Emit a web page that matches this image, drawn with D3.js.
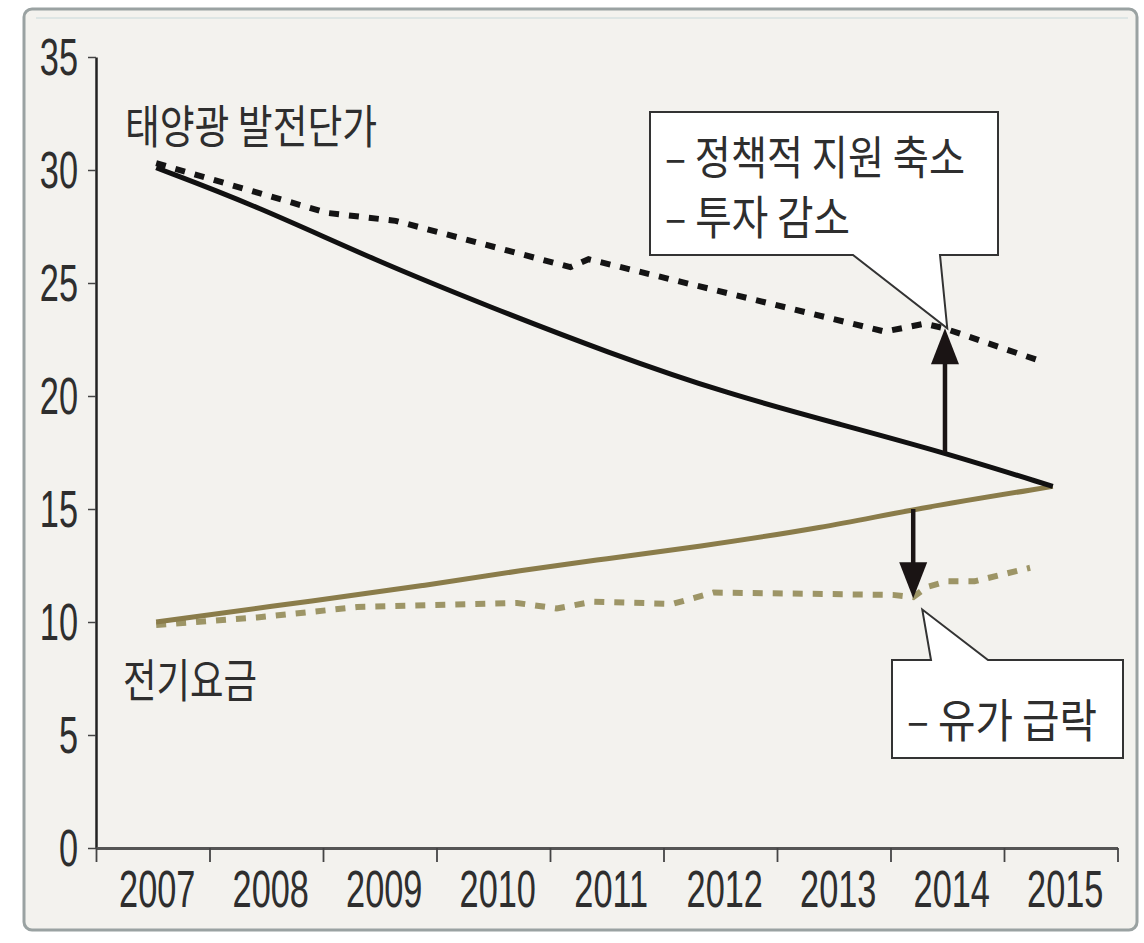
<!DOCTYPE html>
<html><head><meta charset="utf-8">
<script src="https://cdn.jsdelivr.net/npm/d3@7"></script>
<style>html,body{margin:0;padding:0;background:#fff;} svg{display:block}</style>
</head><body><svg id="c" width="1144" height="943"></svg>
<script>
// ---- data ----
const years = [2007, 2008, 2009, 2010, 2011, 2012, 2013, 2014, 2015];
const yTicks = [0, 5, 10, 15, 20, 25, 30, 35];

// 태양광 발전단가 (solid black)
const solarYears  = [2007.03, 2007.92, 2008.96, 2009.99, 2011.02, 2012.06, 2013.09, 2013.97, 2014.93];
const solarValues = [30.1, 28.4, 26.0, 23.9, 21.9, 20.1, 18.7, 17.5, 16.0];

// 태양광 발전단가 - 정책 지원 축소 시나리오 (dashed black)
const solarAltYears  = [2007.03, 2008.54, 2009.14, 2010.68, 2010.84, 2013.45, 2013.80, 2013.97, 2014.79];
const solarAltValues = [30.3, 28.1, 27.75, 25.7, 26.05, 22.85, 23.2, 23.0, 21.6];

// 전기요금 (solid gold)
const elecYears  = [2007.03, 2008.5, 2009.38, 2010.26, 2011.0, 2011.76, 2012.94, 2013.7, 2014.93];
const elecValues = [10.0, 11.0, 11.6, 12.3, 12.8, 13.3, 14.2, 15.0, 16.0];

// 전기요금 - 유가 급락 시나리오 (dashed gold)
const elecAltYears  = [2007.03, 2007.92, 2008.8, 2010.21, 2010.56, 2010.88, 2011.58, 2011.94, 2013.52, 2013.70, 2013.82, 2014.0, 2014.24, 2014.73];
const elecAltValues = [9.87, 10.2, 10.66, 10.84, 10.6, 10.9, 10.8, 11.3, 11.2, 11.1, 11.55, 11.8, 11.8, 12.4];

// arrows: [year, from, to]
const arrowYears = [2013.98, 2013.70];
const arrowFrom  = [17.5, 15.0];
const arrowTo    = [23.0, 11.05];

// labels
const seriesLabels = ["태양광 발전단가", "전기요금"];
const callout1Lines = ["– 정책적 지원 축소", "– 투자 감소"];
const callout2Lines = ["– 유가 급락"];
const callout1Tip = [2014.0, 23.0];
const callout2Tip = [2013.78, 10.55];

// ---- drawing ----
const svg = d3.select("#c");
const textColor = "#2e2e2e";
const numFont = "'Liberation Sans', Arial, sans-serif";
const krFont = "'Noto Sans CJK KR', 'Noto Sans', sans-serif";

svg.append("rect").attr("width", 1144).attr("height", 943).attr("fill", "#ffffff");
svg.append("rect").attr("x", 24).attr("y", 9).attr("width", 1113).attr("height", 921)
  .attr("rx", 8).attr("fill", "#f3f2ee").attr("stroke", "#9aa2a2").attr("stroke-width", 3);
svg.append("line").attr("x1", 36).attr("x2", 1128).attr("y1", 18).attr("y2", 18)
  .attr("stroke", "#d6e0e0").attr("stroke-width", 1.5);

const x = d3.scaleLinear().domain([2006.5, 2015.5]).range([96, 1117.5]);
const y = d3.scaleLinear().domain([0, 35]).range([848, 57]);

const sx = 0.66;

// y axis
const gy = svg.append("g").attr("transform", "translate(96,0)")
  .call(d3.axisLeft(y).tickValues(yTicks).tickSize(8).tickSizeOuter(0).tickPadding(10));
gy.select(".domain").attr("stroke", "#222").attr("stroke-width", 2.5);
gy.selectAll(".tick line").attr("stroke", "#444").attr("stroke-width", 1.5);
gy.selectAll(".tick text")
  .attr("font-family", numFont).attr("font-size", 52).attr("fill", textColor)
  .attr("x", -18 / sx).attr("dy", "0.34em")
  .attr("transform", `scale(${sx},1)`);

// x axis: boundary ticks
const boundaries = d3.range(2006.5, 2016, 1);
const gx = svg.append("g").attr("transform", "translate(0,848)")
  .call(d3.axisBottom(x).tickValues(boundaries).tickSize(14).tickSizeOuter(0).tickFormat(""));
gx.select(".domain").attr("stroke", "#555").attr("stroke-width", 3);
gx.selectAll(".tick line").attr("stroke", "#444").attr("stroke-width", 1.8);

const gxl = svg.append("g").attr("transform", "translate(0,848)")
  .call(d3.axisBottom(x).tickValues(years).tickSize(0).tickFormat(d3.format("d")));
gxl.select(".domain").remove();
gxl.selectAll(".tick text")
  .attr("font-family", numFont).attr("font-size", 52).attr("fill", textColor)
  .attr("y", 59).attr("dy", 0).attr("x", 4 / sx)
  .attr("transform", `scale(${sx},1)`);

// lines
const zip = (xs, vs) => xs.map((d, i) => [d, vs[i]]);
const smooth = d3.line().x(d => x(d[0])).y(d => y(d[1])).curve(d3.curveBasis);
const straight = d3.line().x(d => x(d[0])).y(d => y(d[1]));

svg.append("path").attr("d", straight(zip(elecAltYears, elecAltValues)))
  .attr("fill", "none").attr("stroke", "#9d9566").attr("stroke-width", 6)
  .attr("stroke-dasharray", "10,10");
svg.append("path").attr("d", smooth(zip(elecYears, elecValues)))
  .attr("fill", "none").attr("stroke", "#8a7c4a").attr("stroke-width", 5);
svg.append("path").attr("d", straight(zip(solarAltYears, solarAltValues)))
  .attr("fill", "none").attr("stroke", "#141414").attr("stroke-width", 6)
  .attr("stroke-dasharray", "10,10");
svg.append("path").attr("d", smooth(zip(solarYears, solarValues)))
  .attr("fill", "none").attr("stroke", "#111").attr("stroke-width", 5);

// arrows
arrowYears.forEach((yr, i) => {
  const ax = x(yr), y0 = y(arrowFrom[i]), y1 = y(arrowTo[i]);
  const dir = y1 < y0 ? -1 : 1;
  const headLen = 36, halfW = 14;
  svg.append("line").attr("x1", ax).attr("x2", ax).attr("y1", y0).attr("y2", y1 - dir * headLen + dir * 2)
    .attr("stroke", "#1a1414").attr("stroke-width", 4.5);
  svg.append("path")
    .attr("d", `M${ax},${y1} L${ax - halfW},${y1 - dir * headLen} L${ax + halfW},${y1 - dir * headLen} Z`)
    .attr("fill", "#1a1414");
});

// callout 1
{
  const tx = x(callout1Tip[0]), ty = y(callout1Tip[1]);
  const L = 650, T = 112, R = 998, B = 255;
  svg.append("path")
    .attr("d", `M${L},${T} L${R},${T} L${R},${B} L940,${B} L${tx},${ty} L853,${B} L${L},${B} Z`)
    .attr("fill", "#ffffff").attr("stroke", "#333").attr("stroke-width", 2);
}
// callout 2
{
  const tx = x(callout2Tip[0]), ty = y(callout2Tip[1]);
  const L = 892, T = 660, R = 1123, B = 758;
  svg.append("path")
    .attr("d", `M${L},${T} L931,${T} L${tx},${ty} L988,${T} L${R},${T} L${R},${B} L${L},${B} Z`)
    .attr("fill", "#ffffff").attr("stroke", "#333").attr("stroke-width", 2);
}

function krText(str, px, py, len, size) {
  svg.append("text").attr("x", px).attr("y", py)
    .attr("font-family", krFont).attr("font-size", size).attr("fill", textColor)
    .attr("textLength", len).attr("lengthAdjust", "spacingAndGlyphs")
    .text(str);
}
krText(seriesLabels[0], 125, 143, 252, 46);
krText(seriesLabels[1], 123, 697, 134, 46);
krText(callout1Lines[0], 665, 174, 300, 46);
krText(callout1Lines[1], 665, 234, 185, 46);
krText(callout2Lines[0], 907, 737, 190, 46);
</script></body></html>
